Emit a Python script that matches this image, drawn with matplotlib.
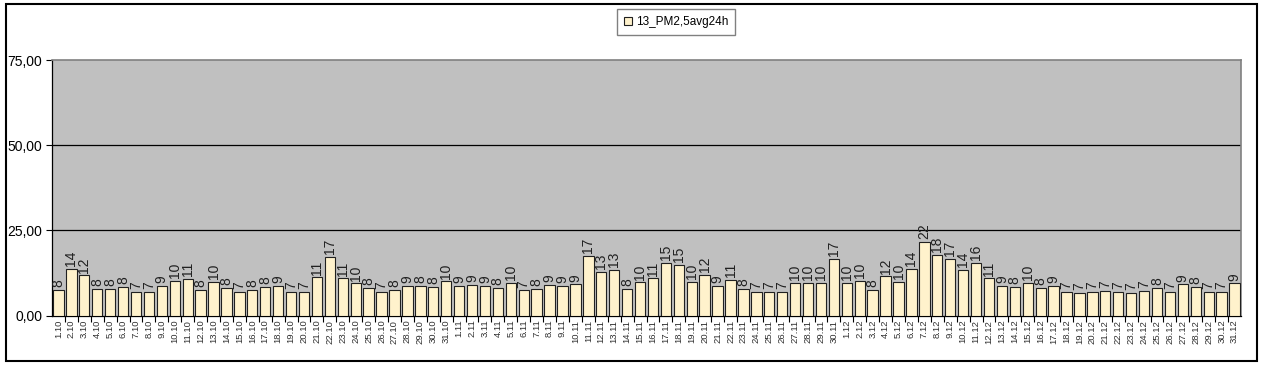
import matplotlib
matplotlib.use("Agg")
import matplotlib.pyplot as plt
from matplotlib.patches import Rectangle, Patch
from matplotlib.ticker import FuncFormatter

plt.rcParams['font.family'] = ['Liberation Sans', 'DejaVu Sans']

# Days 1.10 - 31.12
days_oct = [f"{d}.10" for d in range(1, 32)]
days_nov = [f"{d}.11" for d in range(1, 31)]
days_dec = [f"{d}.12" for d in range(1, 32)]
day_labels = days_oct + days_nov + days_dec

# PM2.5 24h averages
pm_oct = [7.6, 13.7, 11.8, 7.8, 7.7, 8.3, 7.0, 7.0, 8.7, 10.2,
          10.8, 7.6, 9.9, 8.0, 7.0, 7.6, 8.3, 8.6, 7.0, 7.0,
          11.2, 17.1, 10.9, 9.4, 8.0, 6.9, 7.6, 8.6, 8.6, 8.3, 10.0]
pm_nov = [8.6, 8.9, 8.6, 8.0, 9.5, 7.4, 7.7, 8.9, 8.6, 9.1,
          17.4, 12.7, 13.5, 7.7, 9.7, 10.9, 15.5, 14.9, 9.9, 11.9,
          8.7, 10.5, 7.8, 7.0, 7.0, 7.0, 9.6, 9.6, 9.6, 16.6]
pm_dec = [9.6, 10.2, 7.6, 11.5, 9.9, 13.7, 21.6, 17.8, 16.6, 13.5,
          15.5, 10.9, 8.6, 8.3, 9.5, 8.0, 8.6, 7.0, 6.7, 7.0,
          7.3, 7.0, 6.7, 7.3, 8.0, 7.0, 9.1, 8.3, 7.0, 7.0, 9.4]
pm_values = pm_oct + pm_nov + pm_dec

# value labels as printed on the chart
lab_oct = [8, 14, 12, 8, 8, 8, 7, 7, 9, 10, 11, 8, 10, 8, 7, 8, 8, 9, 7, 7,
           11, 17, 11, 10, 8, 7, 8, 9, 8, 8, 10]
lab_nov = [9, 9, 9, 8, 10, 7, 8, 9, 9, 9, 17, 13, 13, 8, 10, 11, 15, 15, 10, 12,
           9, 11, 8, 7, 7, 7, 10, 10, 10, 17]
lab_dec = [10, 10, 8, 12, 10, 14, 22, 18, 17, 14, 16, 11, 9, 8, 10, 8, 9, 7, 7, 7,
           7, 7, 7, 7, 8, 7, 9, 8, 7, 7, 9]
value_labels = lab_oct + lab_nov + lab_dec

series_name = "13_PM2,5avg24h"
bar_color = "#FFF2CC"

fig = plt.figure(figsize=(12.64, 3.68), dpi=100)
ax = fig.add_axes([52 / 1264, 1 - 315.5 / 368, 1189 / 1264, 255.5 / 368])
ax.set_facecolor("#C0C0C0")

x = list(range(len(pm_values)))
bars = ax.bar(x, pm_values, width=0.8, color=bar_color, edgecolor="#202020",
              linewidth=0.8, zorder=3)

for b, lab in zip(bars, value_labels):
    ax.annotate(str(lab), (b.get_x() + b.get_width() / 2, b.get_height()),
                xytext=(0, 2), textcoords="offset points", rotation=90,
                ha="center", va="bottom", fontsize=10, color="#202020", zorder=4)

ax.set_xlim(-0.5, len(pm_values) - 0.5)
ax.set_ylim(0, 75)
ax.set_yticks([0, 25, 50, 75])
ax.yaxis.set_major_formatter(FuncFormatter(lambda v, p: f"{v:.2f}".replace(".", ",")))
ax.tick_params(axis="y", labelsize=10, length=4, width=0.8, color="black", pad=3)

ax.set_xticks(x)
ax.set_xticklabels(day_labels, rotation=90, fontsize=6.8, color="#303030")
ax.tick_params(axis="x", which="major", length=0, pad=3)
ax.set_xticks([i + 0.5 for i in x[:-1]], minor=True)
ax.tick_params(axis="x", which="minor", length=4, width=0.8, color="black")

for yv in (25, 50):
    ax.axhline(yv, color="black", linewidth=0.9, zorder=2)

for side in ("top", "right"):
    ax.spines[side].set_color("#808080")
    ax.spines[side].set_linewidth(1.2)
ax.spines["left"].set_color("black")
ax.spines["bottom"].set_color("black")
ax.spines["left"].set_linewidth(0.9)
ax.spines["bottom"].set_linewidth(0.9)

# legend
handle = Patch(facecolor=bar_color, edgecolor="#202020", linewidth=0.8)
fig.legend([handle], [series_name], loc="center",
           bbox_to_anchor=(676 / 1264, 1 - 22 / 368), fontsize=8.5,
           frameon=True, fancybox=False, edgecolor="#606060",
           handlelength=0.7, handleheight=0.7, handletextpad=0.3,
           borderpad=0.6, borderaxespad=0)

# outer chart frame
fig.patches.append(Rectangle((6 / 1264, 7 / 368), 1251 / 1264, 357 / 368,
                             transform=fig.transFigure, fill=False,
                             edgecolor="black", linewidth=1.5))

fig.savefig("out.png", dpi=100)
